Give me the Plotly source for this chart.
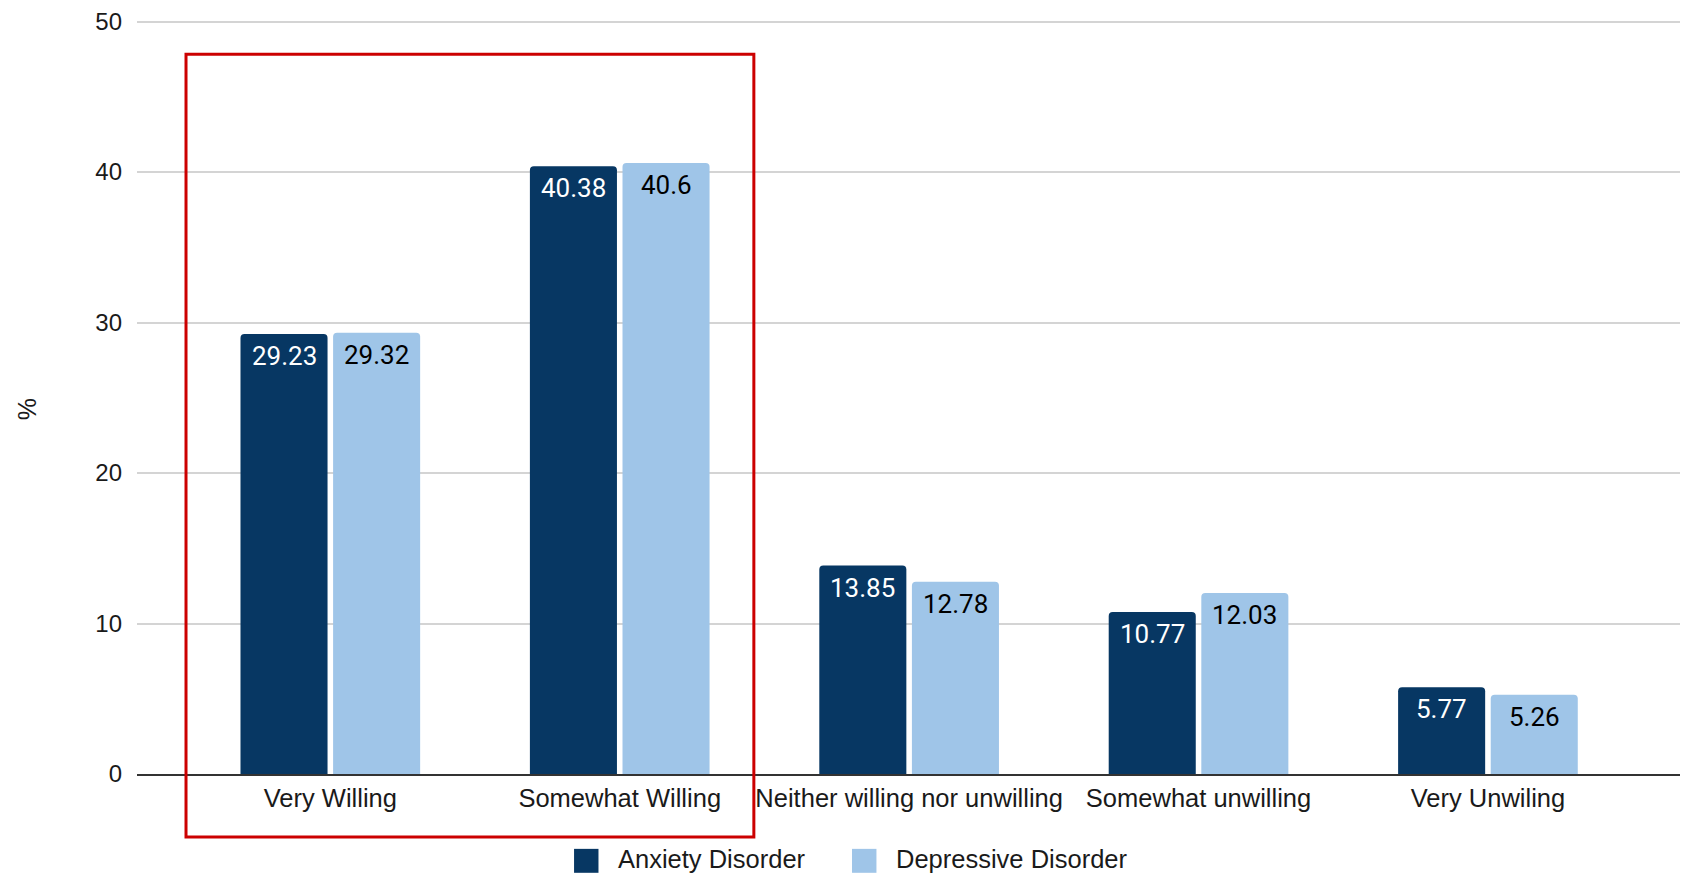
import plotly.graph_objects as go

categories = ["Very Willing", "Somewhat Willing", "Neither willing nor unwilling",
              "Somewhat unwilling", "Very Unwiling"]
anxiety = [29.23, 40.38, 13.85, 10.77, 5.77]
depressive = [29.32, 40.6, 12.78, 12.03, 5.26]
series_names = ["Anxiety Disorder", "Depressive Disorder"]
y_ticks = [0, 10, 20, 30, 40, 50]
y_title = "%"

DARK = "#073763"
LIGHT = "#9fc5e8"
TXT = "#1a1a1a"
# page has an 8px body margin, so the figure is made 8px smaller
W, H = 1680, 867
ML, MR, MT, MB = 129, 5, 6, 101
XR = [-0.668, 4.674]
YR = [0, 50.5]
BARGAP = 0.36

fig = go.Figure()
for name, vals, col in [(series_names[0], anxiety, DARK), (series_names[1], depressive, LIGHT)]:
    fig.add_trace(go.Bar(x=categories, y=vals, name=name, marker=dict(color=col, line=dict(width=0)),
                         showlegend=False))

# data labels inside bar tops
plot_w = W - ML - MR
cat_px = plot_w / (XR[1] - XR[0])
slot = cat_px * (1 - BARGAP) / 2
for i, (vals, tcol) in enumerate([(anxiety, "white"), (depressive, "black")]):
    for c, v in zip(categories, vals):
        fig.add_annotation(x=c, y=v, text=str(v), showarrow=False, xshift=(i - 0.5) * slot,
                           yshift=-22, yanchor="middle",
                           font=dict(family="Roboto", size=26, color=tcol))

# highlight rectangle
fig.add_shape(type="rect", xref="paper", yref="paper", x0=0.0317, x1=0.399, y0=-0.0829, y1=0.947,
              line=dict(color="#cc0000", width=3), fillcolor="rgba(0,0,0,0)", layer="above")

# y-axis title
fig.add_annotation(xref="paper", yref="paper", x=-0.0711, y=0.480, text=y_title, textangle=-90,
                   showarrow=False, xanchor="center", yanchor="middle",
                   font=dict(family="Liberation Sans, Arial", size=25, color=TXT))

# legend
leg = [(series_names[0], DARK, 0.2827), (series_names[1], LIGHT, 0.4625)]
for name, col, x0 in leg:
    fig.add_shape(type="rect", xref="paper", yref="paper", x0=x0, x1=x0 + 0.0158,
                  y0=-0.1300, y1=-0.0985, fillcolor=col, line=dict(width=0))
    fig.add_annotation(xref="paper", yref="paper", x=x0 + 0.027, y=-0.1112, text=name,
                       showarrow=False, xanchor="left", yanchor="middle",
                       font=dict(family="Liberation Sans, Arial", size=25.5, color=TXT))

fig.update_layout(
    width=W, height=H,
    margin=dict(l=ML, r=MR, t=MT, b=MB),
    paper_bgcolor="white", plot_bgcolor="white",
    barmode="group", bargap=BARGAP, bargroupgap=0.06, barcornerradius=4,
    font=dict(family="Liberation Sans, Arial", size=25.5, color=TXT),
    xaxis=dict(range=XR, showgrid=False, ticks="", showline=True, linecolor="#333", linewidth=2,
               ticklabelstandoff=0, tickfont=dict(size=25.5), automargin=False),
    yaxis=dict(range=YR, tickvals=y_ticks, showgrid=True, gridcolor="#d4d4d4", gridwidth=2,
               zeroline=False, showline=False, ticks="", ticklabelstandoff=14,
               ticklabeloverflow="allow", automargin=False,
               tickfont=dict(size=24)),
)

fig.write_html("out.html")
